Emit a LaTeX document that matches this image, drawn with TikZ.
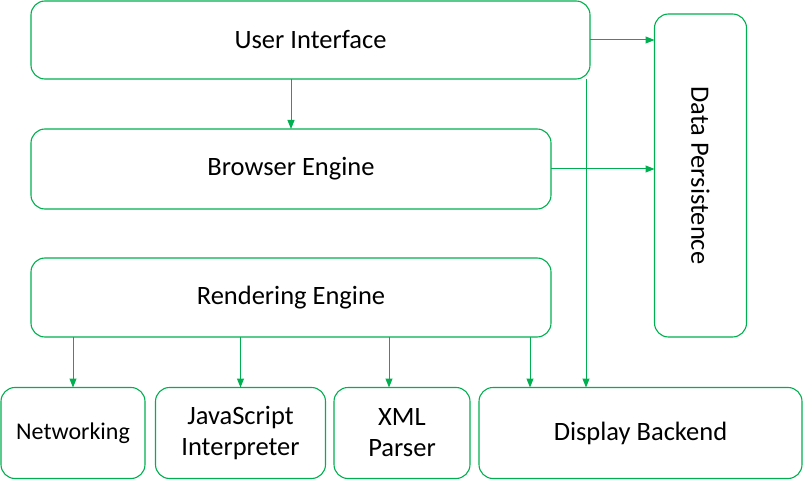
\documentclass[tikz,border=0pt]{standalone}
\usepackage{fontspec}
\setmainfont{Carlito}
\usetikzlibrary{arrows.meta}
\definecolor{og}{HTML}{00B050}
\tikzset{
  box/.style={draw=og, line width=1.1pt, rounded corners=14pt, inner sep=0pt, outer sep=0pt, align=center, font=\fontsize{26.5}{31}\selectfont},
  small/.style={font=\fontsize{24}{30}\selectfont},
  arr/.style={draw=og, line width=1pt, -{Triangle[length=9pt,width=7pt]}},
}
\begin{document}
\begin{tikzpicture}[x=1pt,y=-1pt]
\useasboundingbox (0,0) rectangle (803,481);
\node[box, minimum width=559, minimum height=78] (ui) at (310.5,40) {User Interface};
\node[box, minimum width=520, minimum height=80] (be) at (291,169) {Browser Engine};
\node[box, minimum width=520, minimum height=79] (re) at (291,297.5) {Rendering Engine};
\node[box, minimum width=92, minimum height=323, label={[rotate=-90, font=\fontsize{26.5}{31}\selectfont]center:Data Persistence}] (dp) at (700.5,175.5) {};
\node[box, small, minimum width=144, minimum height=91] (net) at (73,433) {Networking};
\node[box, minimum width=170, minimum height=91] (js) at (240.5,433) {JavaScript\\Interpreter};
\node[box, minimum width=136, minimum height=91] (xml) at (402,433) {XML\\Parser};
\node[box, minimum width=323, minimum height=91] (db) at (640.5,433) {Display Backend};
\coordinate (vx) at (586,0);
\coordinate (ax) at (389,0);
\coordinate (bx) at (530,0);
\draw[arr] (ui.east) -- (ui.east -| dp.west);
\draw[arr] (be.east) -- (be.east -| dp.west);
\draw[arr] (be.north |- ui.south) -- (be.north);
\draw[arr] (vx |- ui.south) -- (vx |- db.north);
\draw[arr] (net.north |- re.south) -- (net.north);
\draw[arr] (js.north |- re.south) -- (js.north);
\draw[arr] (ax |- re.south) -- (ax |- xml.north);
\draw[arr] (bx |- re.south) -- (bx |- db.north);
\end{tikzpicture}
\end{document}
